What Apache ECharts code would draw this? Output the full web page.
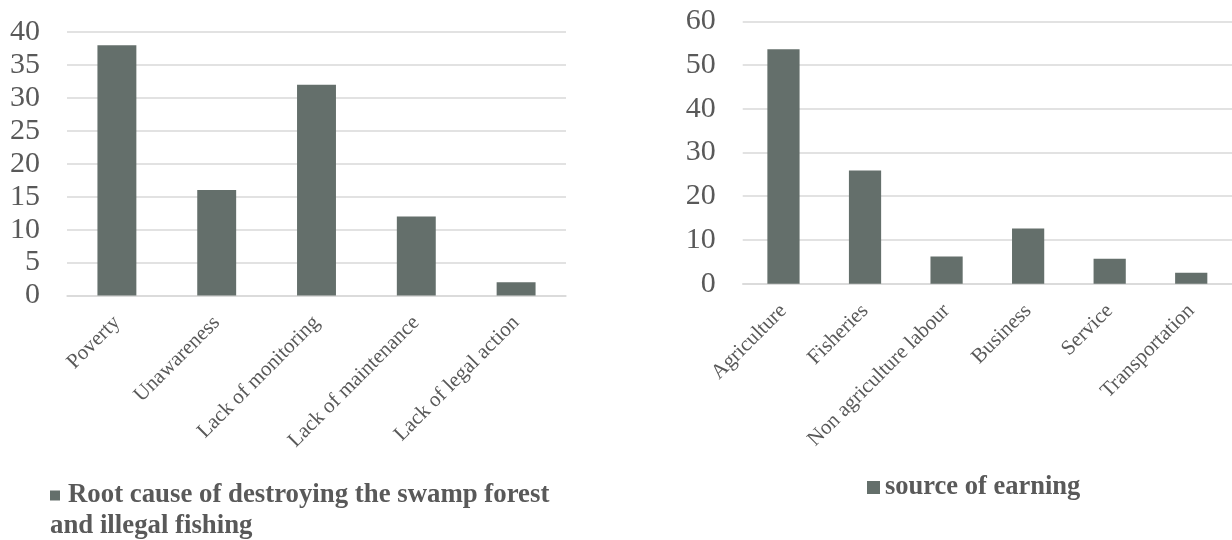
<!DOCTYPE html>
<html>
<head>
<meta charset="utf-8">
<script src="https://cdn.jsdelivr.net/npm/echarts@6/dist/echarts.min.js"></script>
<style>
  html, body { margin: 0; padding: 0; background: #ffffff; }
  #chart { width: 1232px; height: 540px; }
</style>
</head>
<body>
<div id="chart"></div>
<script>
// Left panel: root causes
const causeCategories = ['Poverty', 'Unawareness', 'Lack of monitoring', 'Lack of maintenance', 'Lack of legal action'];
const causeValues = [38, 16, 32, 12, 2];
const causeSeriesName = 'Root cause of destroying the swamp forest and illegal fishing';

// Right panel: sources of earning
const earningCategories = ['Agriculture', 'Fisheries', 'Non agriculture labour', 'Business', 'Service', 'Transportation'];
const earningValues = [53.6, 25.9, 6.2, 12.6, 5.7, 2.5];
const earningSeriesName = 'source of earning';

const BAR = '#646f6b';
const GRID = '#d9d9d9';
const TEXT = '#595959';
const FONT = '"Liberation Serif", "Times New Roman", serif';

const chart = echarts.init(document.getElementById('chart'), null, { renderer: 'canvas' });

function yAxis(gridIndex, max, interval) {
  return {
    type: 'value', gridIndex, min: 0, max, interval,
    axisLine: { show: false }, axisTick: { show: false },
    axisLabel: { color: TEXT, fontFamily: FONT, fontSize: 30, margin: 27 },
    splitLine: { lineStyle: { color: GRID, width: 1.5 } }
  };
}
function xAxis(gridIndex, data) {
  return {
    type: 'category', gridIndex, data,
    axisLine: { lineStyle: { color: GRID, width: 1.5 } },
    axisTick: { show: false },
    axisLabel: { color: TEXT, fontFamily: FONT, fontSize: 21, rotate: 45, margin: 24, interval: 0 }
  };
}

chart.setOption({
  animation: false,
  backgroundColor: '#ffffff',
  grid: [
    { left: 67, top: 32, width: 499, height: 263.5 },
    { left: 742.7, top: 21.3, width: 496, height: 262.4 }
  ],
  xAxis: [xAxis(0, causeCategories), xAxis(1, earningCategories)],
  yAxis: [yAxis(0, 40, 5), yAxis(1, 60, 10)],
  legend: [
    {
      data: [causeSeriesName],
      left: 45, top: 482, padding: 0,
      icon: 'none', itemWidth: 0, itemHeight: 0,
      formatter: () => '{m| }{s| }{t|Root cause of destroying the swamp forest}\n{t|and illegal fishing}',
      textStyle: {
        rich: {
          m: { width: 10, height: 10, backgroundColor: BAR },
          s: { width: 8 },
          t: { color: TEXT, fontFamily: FONT, fontWeight: 'bold', fontSize: 26.8, lineHeight: 31 }
        }
      }
    },
    {
      data: [earningSeriesName],
      left: 867, top: 474, padding: 0,
      icon: 'rect', itemWidth: 13, itemHeight: 13,
      textStyle: { color: TEXT, fontFamily: FONT, fontWeight: 'bold', fontSize: 26.5 }
    }
  ],
  series: [
    {
      name: causeSeriesName, type: 'bar', xAxisIndex: 0, yAxisIndex: 0,
      data: causeValues, barWidth: '39%',
      itemStyle: { color: BAR }
    },
    {
      name: earningSeriesName, type: 'bar', xAxisIndex: 1, yAxisIndex: 1,
      data: earningValues, barWidth: '39.5%',
      itemStyle: { color: BAR }
    }
  ]
});
</script>
</body>
</html>
